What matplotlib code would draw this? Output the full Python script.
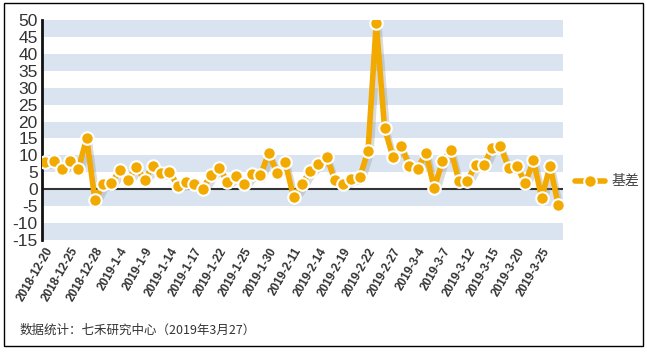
import matplotlib.pyplot as plt
import matplotlib.patheffects as pe
from matplotlib.patches import Rectangle
from matplotlib.lines import Line2D
import numpy as np

plt.rcParams['font.family'] = ['Liberation Sans', 'Noto Sans CJK SC', 'DejaVu Sans']

# trading days shown on the chart (every 3rd one gets a label)
dates = ["2018-12-20", "2018-12-21", "2018-12-24", "2018-12-25", "2018-12-26", "2018-12-27", "2018-12-28",
         "2019-1-2", "2019-1-3", "2019-1-4", "2019-1-7", "2019-1-8", "2019-1-9", "2019-1-10", "2019-1-11",
         "2019-1-14", "2019-1-15", "2019-1-16", "2019-1-17", "2019-1-18", "2019-1-21", "2019-1-22",
         "2019-1-23", "2019-1-24", "2019-1-25", "2019-1-28", "2019-1-29", "2019-1-30", "2019-1-31",
         "2019-2-1", "2019-2-11", "2019-2-12", "2019-2-13", "2019-2-14", "2019-2-15", "2019-2-18",
         "2019-2-19", "2019-2-20", "2019-2-21", "2019-2-22", "2019-2-25", "2019-2-26", "2019-2-27",
         "2019-2-28", "2019-3-1", "2019-3-4", "2019-3-5", "2019-3-6", "2019-3-7", "2019-3-8",
         "2019-3-11", "2019-3-12", "2019-3-13", "2019-3-14", "2019-3-15", "2019-3-18", "2019-3-19",
         "2019-3-20", "2019-3-21", "2019-3-22", "2019-3-25", "2019-3-26", "2019-3-27"]

# basis values
basis = [8.0, 8.2, 5.9, 8.3, 6.0, 15.1, -3.3, 1.5, 1.8, 5.7, 2.8, 6.7, 2.6, 7.0, 4.7,
         5.2, 1.0, 2.2, 1.4, 0.1, 4.1, 6.4, 2.2, 3.9, 1.6, 4.4, 4.1, 10.7, 4.9, 7.9,
         -2.2, 1.4, 5.5, 7.5, 9.6, 2.6, 1.5, 3.1, 3.5, 11.3, 49.2, 18.1, 9.6, 12.7, 6.9,
         6.1, 10.8, 0.3, 8.2, 11.6, 2.4, 2.5, 7.1, 7.1, 12.3, 12.7, 6.4, 6.9, 1.7, 8.5,
         -2.6, 6.9, -4.7]

yticks = list(range(-15, 51, 5))

W, H = 647, 353
fig = plt.figure(figsize=(W/100, H/100), dpi=100)
ax = fig.add_axes([42/W, 1 - 240/H, (563-42)/W, 220/H])

x = np.arange(len(basis))
orange = '#f2a900'

# alternating background bands
for lo in range(-15, 50, 10):
    ax.axhspan(lo, lo + 5, color='#d9e4f0', lw=0, zorder=0)
ax.axhline(0, color='#333333', lw=1.5, zorder=1)

ax.plot(x, basis, color=orange, lw=4, solid_joinstyle='round', zorder=3,
        path_effects=[pe.SimpleLineShadow(offset=(2, -3), shadow_color='#888888', alpha=0.3),
                      pe.Normal()])
ax.plot(x, basis, 'o', ms=9, mfc=orange, mec='white', mew=1.5, zorder=4)

ax.set_xlim(-0.4, 62.57)
ax.set_ylim(-15, 50)
ax.set_yticks(yticks)
ax.set_yticklabels([str(v) for v in yticks], fontsize=12.5, color='#333333')
ax.set_xticks(x[::3])
ax.set_xticklabels(dates[::3], rotation=60, ha='right', rotation_mode='anchor',
                   fontsize=8.5, fontweight='bold', color='#333333')
ax.tick_params(axis='both', length=0)
ax.tick_params(axis='y', pad=3)
ax.tick_params(axis='x', pad=4)

for s in ['top', 'right', 'bottom']:
    ax.spines[s].set_visible(False)
ax.spines['left'].set_linewidth(2)
ax.spines['left'].set_color('#111111')

# legend on the right
ly = 1 - 181/H
fig.add_artist(Line2D([575/W, 605/W], [ly, ly], color=orange, lw=4, solid_capstyle='round'))
fig.add_artist(Line2D([590/W], [ly], marker='o', ms=9, mfc=orange, mec='white', mew=1.5))
fig.text(612/W, ly, '基差', fontsize=10, color='#444444', va='center',
         family=['Noto Sans CJK SC', 'DejaVu Sans'])

fig.text(20/W, 1 - 330/H, '数据统计：七禾研究中心（2019年3月27）', fontsize=9,
         color='#333333', va='center', family=['Noto Sans CJK SC', 'DejaVu Sans'])

# outer border
fig.add_artist(Rectangle((4/W, 1 - 346/H), 639/W, 343/H, transform=fig.transFigure,
                         fill=False, ec='black', lw=1))

fig.savefig('out.png', dpi=100)
